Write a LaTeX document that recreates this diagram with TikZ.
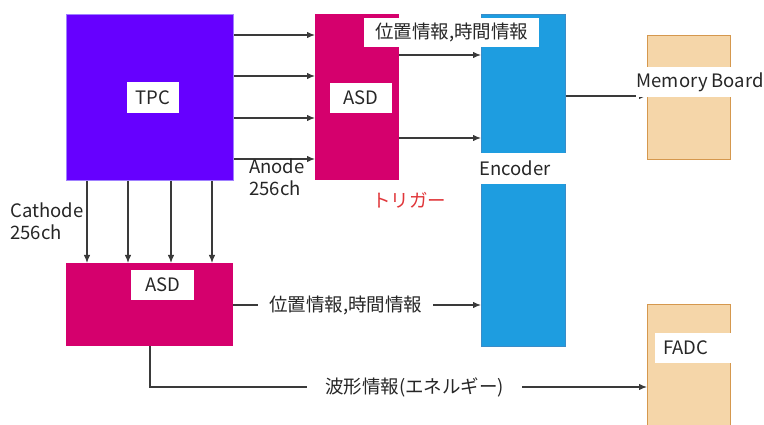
\documentclass[tikz,border=0pt]{standalone}
\usepackage{fontspec}
\setmainfont{Noto Sans CJK JP}
\usetikzlibrary{arrows.meta}
\definecolor{tpcc}{HTML}{6600FF}
\definecolor{tpcb}{HTML}{A080FF}
\definecolor{asdc}{HTML}{D5006D}
\definecolor{encc}{HTML}{1E9DE0}
\definecolor{encb}{HTML}{3A8CC8}
\definecolor{memc}{HTML}{F5D6A9}
\definecolor{memb}{HTML}{D5984E}
\definecolor{txt}{HTML}{262626}
\definecolor{lnc}{HTML}{3A3A3A}
\definecolor{trig}{HTML}{E0363A}
\begin{document}
\begin{tikzpicture}[x=1pt,y=-1pt,
  font=\fontsize{18.5}{22}\selectfont,
  blk/.style args={#1,#2}{rectangle, minimum width=#1pt, minimum height=#2pt, inner sep=0pt, anchor=north west},
  lab/.style args={#1,#2}{rectangle, fill=white, text=txt, minimum width=#1pt, minimum height=#2pt, inner sep=0pt, anchor=north west},
  leftlab/.style args={#1,#2,#3}{rectangle, fill=white, text=txt, text width=#1pt, inner xsep=#3pt, minimum height=#2pt, inner ysep=0pt, align=left, anchor=north west},
  txtn/.style={text=txt, inner sep=0pt},
  arr/.style={draw=lnc, line width=1.2pt, -{Latex[length=8pt,width=6.5pt]}},
  ln/.style={draw=lnc, line width=1.2pt}]
\clip (0,0) rectangle (764,425);
\useasboundingbox (0,0) rectangle (764,425);

% blocks
\node[blk={167,166}, fill=tpcc, draw=tpcb, line width=0.8pt] (tpc) at (66,14) {};
\node[blk={84,166}, fill=asdc] (asd1) at (315,14) {};
\node[blk={84,332}, fill=encc, draw=encb, line width=0.8pt] (enc) at (481,14) {};
\node[blk={83,124}, fill=memc, draw=memb, line width=1pt] (mem) at (647,35) {};
\node[blk={167,83}, fill=asdc] (asd2) at (66,263) {};
\node[blk={83,130}, fill=memc, draw=memb, line width=1pt] (fadc) at (647,304) {};

% TPC -> ASD (anode)
\foreach \yy in {35,76,118,159}
  \draw[arr] (tpc.east |- 0,\yy) -- (asd1.west |- 0,\yy);
% TPC -> ASD (cathode)
\foreach \xx in {87,128,171,212}
  \draw[arr] (tpc.south -| \xx,0) -- (asd2.north -| \xx,0);
% ASD -> Encoder
\foreach \yy in {55,138}
  \draw[arr] (asd1.east |- 0,\yy) -- (enc.west |- 0,\yy);
% Encoder -> Memory
\draw[arr] (enc.east |- 0,96) -- (mem.west |- 0,96);
% ASD2 -> Encoder
\draw[arr] (asd2.east |- 0,305) -- (enc.west |- 0,305);
% ASD2 -> FADC
\coordinate (wv) at (150,387);
\draw[arr] (asd2.south -| wv) |- (fadc.west |- wv);

% labels
\node[lab={52,31}] (tpclab) at (127,82) {TPC};
\node[lab={62,30}] (asd1lab) at (330,83) {ASD};
\node[lab={63,30}] (asd2lab) at (131,270) {ASD};
\node[lab={175,29}] (toplab) at (364,18) {位置情報,時間情報};
\node[leftlab={86,31,1}] (enclab) at (478,153) {Encoder};
\node[lab={128,30}] (memlab) at (636,67) {Memory Board};
\node[leftlab={61,30,8}] (fadclab) at (655,333) {FADC};
\node[lab={175,26}] (midlab) at (258,292) {位置情報,時間情報};
\node[lab={215,26}] (wvlab) at (307,374) {波形情報(エネルギー)};
\node[txtn, anchor=west, align=left] (anode) at (249,177) {Anode\\256ch};
\node[txtn, anchor=west, align=left] (cathode) at (10,221) {Cathode\\256ch};
\node[inner sep=0pt, text=trig] (trig) at (409,200) {トリガー};
\end{tikzpicture}
\end{document}
